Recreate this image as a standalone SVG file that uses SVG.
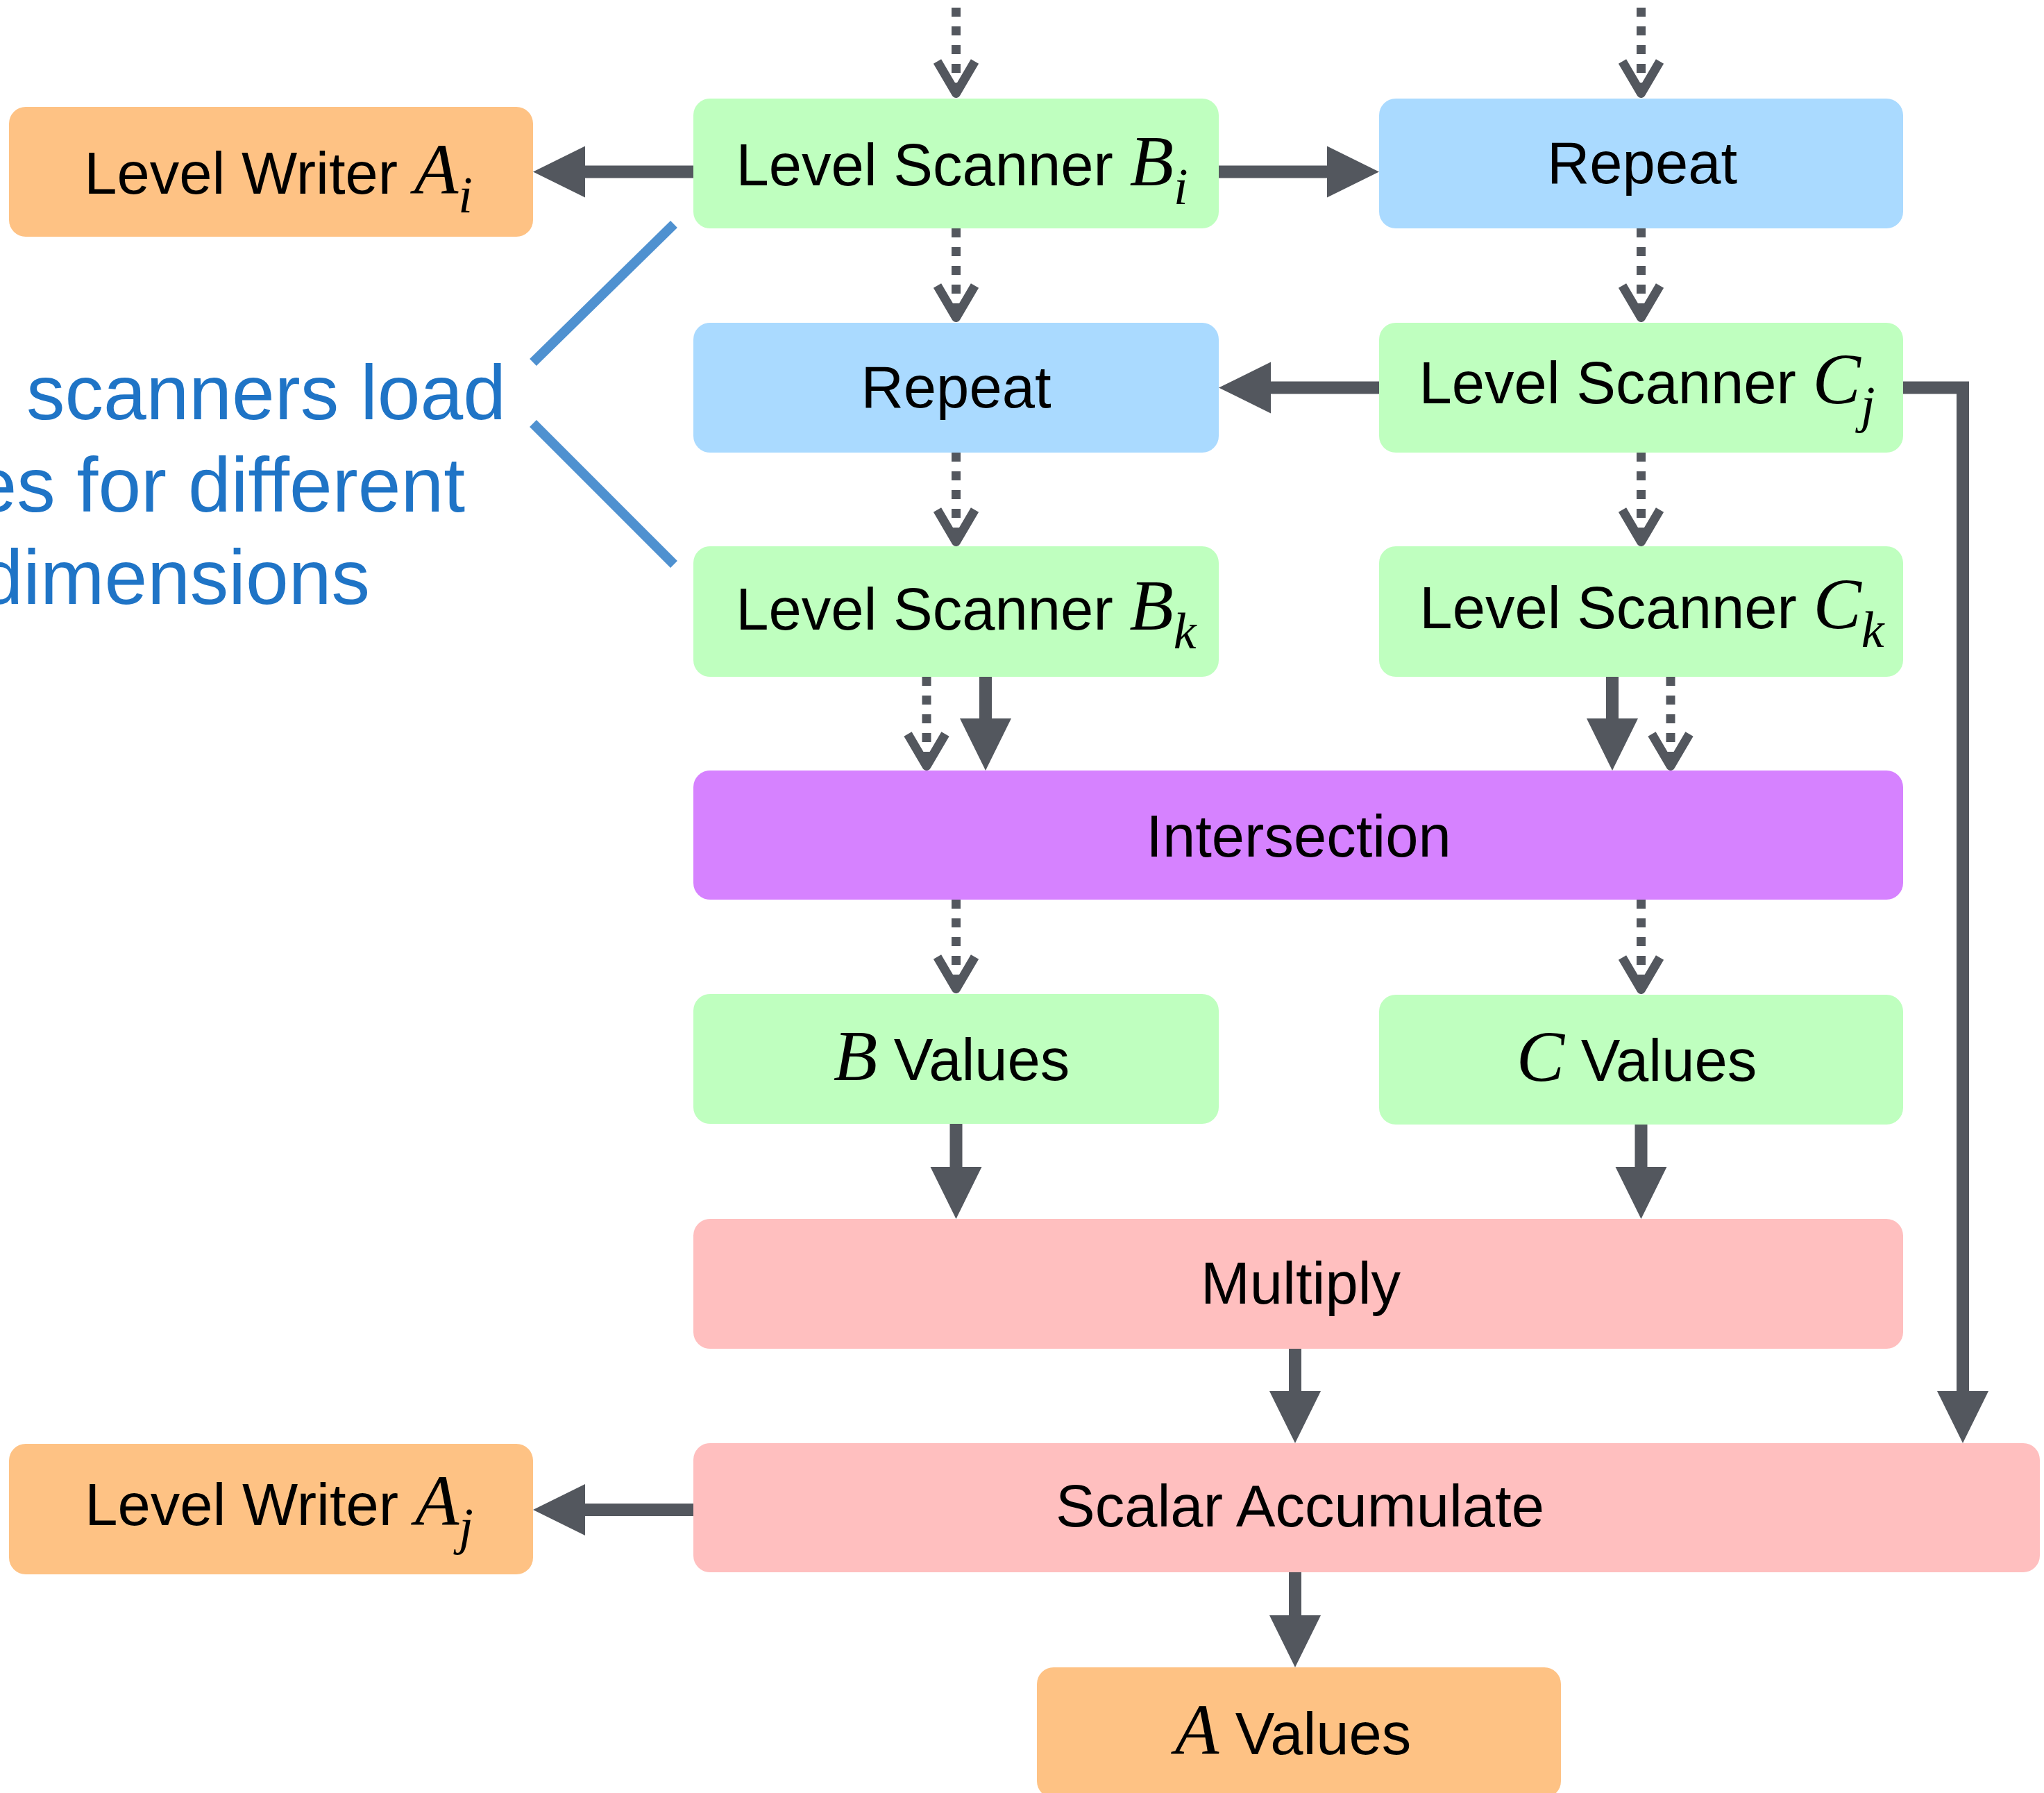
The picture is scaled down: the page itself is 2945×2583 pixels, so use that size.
<svg xmlns="http://www.w3.org/2000/svg" width="2945" height="2583" viewBox="0 0 2945 2583">
<style>
.box{stroke:none}
.orange{fill:#FEC284}
.green{fill:#BFFFBF}
.blue{fill:#AADAFF}
.purple{fill:#D682FF}
.pink{fill:#FFBFBF}
.lbl{font-family:"Liberation Sans",Arial,sans-serif;font-size:85px;fill:#000;text-anchor:middle}
.m{font-family:"Liberation Serif","Times New Roman",serif;font-style:italic;font-size:104px}
.sub{font-family:"Liberation Serif","Times New Roman",serif;font-style:italic;font-size:74px}
.solid{fill:none;stroke:#53575E;stroke-width:18;stroke-linejoin:miter}
.dash{fill:none;stroke:#53575E;stroke-width:13;stroke-dasharray:13 14}
.note{font-family:"Liberation Sans",Arial,sans-serif;font-size:111px;fill:#1F74C6;text-anchor:end}
.brace{fill:none;stroke:#4F91D0;stroke-width:14}
</style>
<defs>
<marker id="ah" markerUnits="userSpaceOnUse" orient="auto" viewBox="-5 -40 80 80" markerWidth="80" markerHeight="80" refX="0" refY="0">
<path d="M-2,-37 L73,0 L-2,37 Z" fill="#53575E" stroke="none"/>
</marker>
<marker id="av" markerUnits="userSpaceOnUse" orient="auto" viewBox="-60 -40 70 80" markerWidth="70" markerHeight="80" refX="0" refY="0">
<path d="M-46,-27 L0,0 L-46,27" fill="none" stroke="#53575E" stroke-width="13" stroke-linejoin="round" stroke-dasharray="none"/>
</marker>
</defs>

<g id="annotation">
<line class="brace" x1="971" y1="323" x2="768" y2="522"/>
<line class="brace" x1="768" y1="610" x2="971" y2="813"/>
<text class="note" x="729" y="604">scanners load</text>
<text class="note" x="670" y="737">es for different</text>
<text class="note" x="533" y="870">dimensions</text>
</g>

<g id="connectors">
<path class="dash" d="M1377.5,-16 V134.5" marker-end="url(#av)"/>
<path class="dash" d="M2364.5,-16 V134.5" marker-end="url(#av)"/>
<path class="dash" d="M1377.5,329 V457.5" marker-end="url(#av)"/>
<path class="dash" d="M2364.5,329 V457.5" marker-end="url(#av)"/>
<path class="dash" d="M1377.5,652 V780.5" marker-end="url(#av)"/>
<path class="dash" d="M2364.5,652 V780.5" marker-end="url(#av)"/>
<path class="dash" d="M1335,975 V1103.5" marker-end="url(#av)"/>
<path class="dash" d="M2407,975 V1103.5" marker-end="url(#av)"/>
<path class="dash" d="M1377.5,1296 V1424.5" marker-end="url(#av)"/>
<path class="dash" d="M2364.5,1296 V1425.5" marker-end="url(#av)"/>
<path class="solid" d="M999,247.5 H841" marker-end="url(#ah)"/>
<path class="solid" d="M1756,247.5 H1914" marker-end="url(#ah)"/>
<path class="solid" d="M1987,558.5 H1829" marker-end="url(#ah)"/>
<path class="solid" d="M1420,975 V1037" marker-end="url(#ah)"/>
<path class="solid" d="M2323,975 V1037" marker-end="url(#ah)"/>
<path class="solid" d="M1377.5,1619 V1683" marker-end="url(#ah)"/>
<path class="solid" d="M2364.5,1620 V1683" marker-end="url(#ah)"/>
<path class="solid" d="M1866,1943 V2006" marker-end="url(#ah)"/>
<path class="solid" d="M2742,558.5 H2828 V2006" marker-end="url(#ah)"/>
<path class="solid" d="M999,2175 H841" marker-end="url(#ah)"/>
<path class="solid" d="M1866,2265 V2329" marker-end="url(#ah)"/>
</g>

<g id="writerAi">
<rect class="box orange" x="13" y="154" width="755" height="187" rx="24"/>
<text class="lbl" x="401" y="279">Level Writer <tspan class="m">A</tspan><tspan class="sub" dy="27">i</tspan></text>
</g>
<g id="scannerBi">
<rect class="box green" x="999" y="142" width="757" height="187" rx="24"/>
<text class="lbl" x="1386" y="267">Level Scanner <tspan class="m">B</tspan><tspan class="sub" dy="27">i</tspan></text>
</g>
<g id="repeat1">
<rect class="box blue" x="1987" y="142" width="755" height="187" rx="24"/>
<text class="lbl" x="2366" y="264">Repeat</text>
</g>
<g id="repeat2">
<rect class="box blue" x="999" y="465" width="757" height="187" rx="24"/>
<text class="lbl" x="1377.5" y="587">Repeat</text>
</g>
<g id="scannerCj">
<rect class="box green" x="1987" y="465" width="755" height="187" rx="24"/>
<text class="lbl" x="2373" y="581">Level Scanner <tspan class="m">C</tspan><tspan class="sub" dy="27">j</tspan></text>
</g>
<g id="scannerBk">
<rect class="box green" x="999" y="787" width="757" height="188" rx="24"/>
<text class="lbl" x="1392" y="907">Level Scanner <tspan class="m">B</tspan><tspan class="sub" dy="27">k</tspan></text>
</g>
<g id="scannerCk">
<rect class="box green" x="1987" y="787" width="755" height="188" rx="24"/>
<text class="lbl" x="2380" y="905">Level Scanner <tspan class="m">C</tspan><tspan class="sub" dy="27">k</tspan></text>
</g>
<g id="intersection">
<rect class="box purple" x="999" y="1110" width="1743" height="186" rx="24"/>
<text class="lbl" x="1871" y="1234">Intersection</text>
</g>
<g id="bValues">
<rect class="box green" x="999" y="1432" width="757" height="187" rx="24"/>
<text class="lbl" x="1371" y="1556"><tspan class="m">B</tspan> Values</text>
</g>
<g id="cValues">
<rect class="box green" x="1987" y="1433" width="755" height="187" rx="24"/>
<text class="lbl" x="2358" y="1557"><tspan class="m">C</tspan> Values</text>
</g>
<g id="multiply">
<rect class="box pink" x="999" y="1756" width="1743" height="187" rx="24"/>
<text class="lbl" x="1874" y="1878">Multiply</text>
</g>
<g id="scalarAccumulate">
<rect class="box pink" x="999" y="2079" width="1940" height="186" rx="24"/>
<text class="lbl" x="1873" y="2199">Scalar Accumulate</text>
</g>
<g id="writerAj">
<rect class="box orange" x="13" y="2080" width="755" height="188" rx="24"/>
<text class="lbl" x="402" y="2197">Level Writer <tspan class="m">A</tspan><tspan class="sub" dy="27">j</tspan></text>
</g>
<g id="aValues">
<rect class="box orange" x="1494" y="2402" width="755" height="188" rx="24"/>
<text class="lbl" x="1863" y="2527"><tspan class="m">A</tspan> Values</text>
</g>
</svg>
